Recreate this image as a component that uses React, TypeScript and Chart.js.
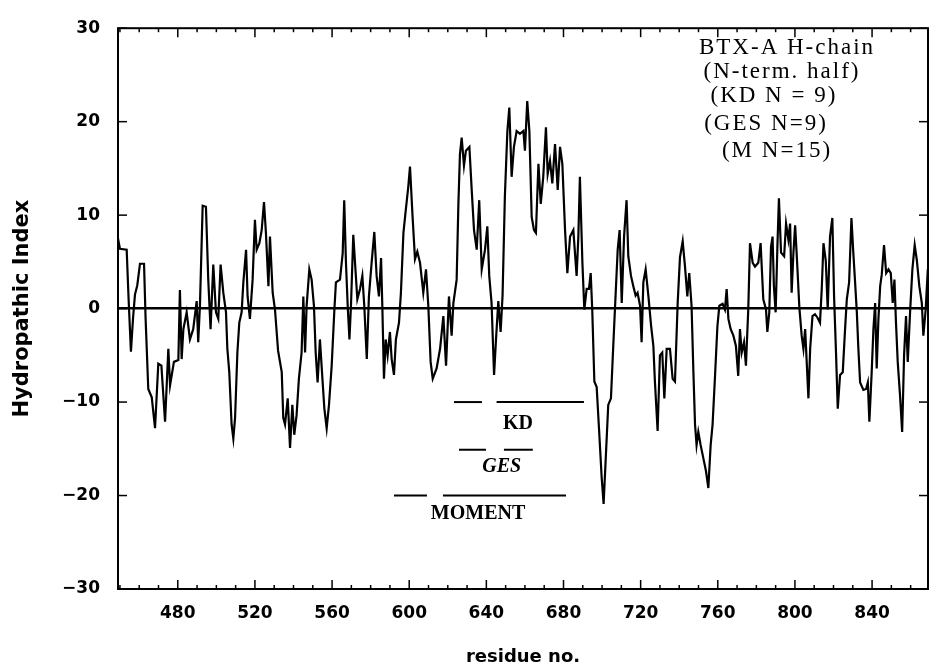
import React, { useEffect, useRef } from "react";
import { Chart, registerables } from "chart.js";

Chart.register(...registerables);

// ---- data ----
const residues = [
  449, 450, 453.5, 454.5, 455.7, 456.8, 457.8, 459, 460.4, 462.5, 463.3, 464.7, 466.5, 468.2, 469.9, 471.5, 473.4, 475.1, 476, 478,
  480.3, 481.1, 482, 482.9, 484.6, 486.3, 488, 489.8, 490.6, 491.5, 492.9, 494.6, 495.8, 497, 498.4, 499.8, 501, 502.2, 503.6, 505,
  505.7, 506.7, 507.9, 508.8, 509.7, 510.9, 511.9, 513.1, 514, 515.4, 516.2, 517.4, 518.8, 520, 520.9, 522.3, 523.5, 524.7, 525.7, 527,
  527.8, 529.2, 530.4, 532, 533.9, 534.7, 535.6, 537, 538.2, 539.4, 540.4, 541.6, 542.8, 544.2, 545.1, 546, 546.8, 548.2, 549.4, 550.6,
  551.5, 552.5, 553.7, 555, 556, 557.2, 558.4, 559.8, 561.2, 562, 564.1, 565.5, 566.3, 567.2, 568.1, 569, 569.8, 571, 571.9, 573.1,
  574.5, 575.7, 576.7, 578, 579.1, 580.5, 581.9, 583.1, 584.3, 585.4, 586.1, 586.9, 587.8, 588.8, 590, 590.9, 592.1, 593.1, 594.7, 595.7,
  597, 598.2, 599.5, 600.4, 601.7, 603, 604.2, 605.6, 607.3, 608.7, 609.9, 611.1, 612.2, 614.2, 616, 617.7, 619.1, 620.6, 622, 622.9,
  624.6, 625.5, 626.3, 627.2, 628.4, 629.4, 631.2, 632.4, 633.6, 635, 636.3, 637.6, 639.3, 640.5, 641.5, 642.7, 644, 645, 646.2, 647.4,
  648.4, 649.6, 650.9, 651.9, 653.1, 654.3, 655.7, 657.4, 659.2, 660, 661.2, 662.3, 663.5, 664.7, 665.7, 667, 668.2, 669.5, 670.9, 671.8,
  673, 674.2, 675.6, 677, 678.2, 679.4, 680.8, 682, 683.4, 685.1, 686.8, 687.7, 688.5, 689.8, 690.8, 692, 693.2, 694.1, 694.9, 696,
  697.2, 698.4, 699.8, 700.8, 702, 703.2, 704.6, 705.8, 707, 708.1, 709.1, 710.2, 711.4, 712.7, 713.6, 715, 716.2, 717.4, 718.4, 719.7,
  720.5, 721.4, 722.6, 724, 725.4, 726.6, 727.4, 728.8, 730, 731.2, 732.3, 733.5, 735.2, 736.6, 737.8, 739.2, 740.4, 741.8, 743, 744.2,
  745.2, 746.4, 747.3, 748.2, 749, 749.9, 751.1, 752.5, 753.9, 755.1, 756.3, 757.3, 758.5, 759.8, 760.8, 762.5, 763.7, 764.6, 765.5, 766.7,
  768.1, 769.4, 770.6, 771.5, 772.4, 773.6, 774.6, 775.8, 776.7, 778.1, 779.3, 781, 782.2, 783.6, 785, 785.7, 786.7, 787.6, 788.4, 789.1,
  790, 790.9, 791.7, 792.8, 794.4, 795.4, 796.6, 797.5, 798.3, 799.2, 800.1, 800.9, 802.3, 803.5, 804.4, 805.3, 807, 807.9, 809.1, 810.4,
  811.8, 813, 813.9, 814.8, 816, 817, 818.2, 819.4, 820.3, 821.3, 822.2, 823.4, 824.8, 826, 826.9, 828.1, 829.3, 830.3, 831.2, 832.1,
  832.9, 833.8, 835.5, 836.9, 837.8, 838.6, 839.8, 840.7, 841.6, 842.4, 843.3, 844.2, 845, 846.2, 847.3, 848.5, 849.7, 850.7, 851.6, 852.4,
  853.3, 854.5, 855.6, 856.6, 857.6, 858.5, 859.7, 860.9, 862.1, 863.2, 864.5, 865.8, 866.6, 867.8, 868.9,
];

const hydro = [
  7.5, 6.4, 6.3, 1, -4.6, -1, 1.5, 2.5, 4.8, 4.8, -1, -8.6, -9.5, -12.8, -5.9, -6.1, -12.1, -4.3, -8.2, -5.7,
  -5.5, 2, -5.4, -2.2, -0.4, -3.3, -2.2, 0.8, -3.6, 0.4, 11, 10.9, 3.1, -2.2, 4.7, -0.4, -1.1, 4.7, 1.7, -0.4,
  -4.3, -6.8, -12.4, -13.9, -11.7, -4.7, -1.5, -0.4, 2.8, 6.3, 1.3, -1.1, 3.1, 9.5, 6.3, 7, 8.4, 11.4, 8.1, 2.4,
  7.7, 1.7, -0.1, -4.5, -6.8, -11.7, -12.4, -9.6, -14.9, -10.3, -13.5, -11.4, -7.5, -4.7, 1.3, -4.7, 0.3, 4.2, 3.1, 0.3,
  -4.7, -7.9, -3.3, -7.5, -10.7, -12.8, -10.3, -6.1, -0.1, 2.8, 3.1, 5.9, 11.6, 4.9, 0.3, -3.3, 0.3, 7.9, 4.9, 1,
  2.1, 3.5, 0.3, -5.4, 1.3, 4.9, 8.2, 3.5, 1.3, 5.4, -0.1, -7.5, -3.3, -5, -2.5, -5.4, -7.1, -3.3, -1.5, 1.7,
  8.1, 10.5, 13, 15.2, 10, 5.3, 6.1, 4.9, 1.7, 4.2, 0.3, -5.7, -7.5, -6.4, -4.3, -0.8, -6.1, 1.3, -2.9, 0.6,
  3.1, 11.2, 16.5, 18.3, 15.3, 16.9, 17.3, 12.7, 8.4, 6.3, 11.6, 4.2, 6.3, 8.8, 3.5, 0.6, -7.1, -3.3, 0.8, -2.5,
  1.4, 12, 19, 21.5, 14.1, 17.3, 19, 18.7, 19, 16.9, 22.2, 19, 9.8, 8.4, 8.1, 15.5, 11.2, 14.1, 19.4, 14.4,
  15.8, 13.4, 17.6, 12.7, 17.3, 15.5, 8.4, 3.8, 7.7, 8.4, 3.5, 7.7, 14.1, 4.9, -0.1, 2.1, 2.1, 3.8, -0.1, -7.8,
  -8.4, -12.8, -18.1, -20.9, -15.6, -10.3, -9.6, -4, 1.4, 6.3, 8.4, 0.6, 7.7, 11.6, 5.6, 3.5, 2.4, 1.4, 1.7, 0.3,
  -3.6, 2.8, 4.2, 1.4, -1.8, -4, -7.8, -13.1, -5, -4.7, -9.6, -4.3, -4.3, -7.5, -7.8, 0.6, 5.5, 7.2, 4.5, 1.3,
  3.8, 0.3, -6.4, -12.4, -14.6, -13.2, -14.6, -16, -17.4, -19.2, -14.6, -12.4, -7.5, -1.9, 0.3, 0.5, -0.1, 2.1, -1.1, -2.2,
  -2.9, -4, -7.2, -2.2, -4.7, -3.6, -6.1, -0.1, 7, 4.9, 4.5, 4.9, 7, 1, -0.1, -2.5, -0.4, 6.6, 7.7, 2.4,
  -0.4, 6.6, 11.8, 6, 5.6, 9.1, 7.4, 9.1, 1.7, 5.9, 8.9, 5.9, 0.1, -2.9, -4.3, -2.2, -9.6, -4.3, -0.8, -0.6,
  -1, -1.5, 2.1, 7, 5.1, -0.1, 7.7, 9.7, 1.3, -4.7, -10.7, -7.1, -6.8, -2.2, 1, 2.8, 9.7, 5.9, 2.8, -0.4,
  -4.3, -7.9, -8.7, -8.6, -7.9, -12.1, -6.8, -2.2, 0.6, -6.4, -1.1, 2.4, 3.6, 6.8, 3.8, 4.2, 3.8, 0.6, 3.1, -1.5,
  -5.7, -9.3, -13.2, -5, -0.8, -5.7, -0.4, 4.2, 6.8, 5.2, 2.4, 0.6, -2.9, -0.1, 4.2,
];

const xRange = [449, 869];
const xTickValues = [480, 520, 560, 600, 640, 680, 720, 760, 800, 840];
const xMinorStep = 10;
const yTickValues = [-30, -20, -10, 0, 10, 20, 30];
const yTickLabels = ["\u221230", "\u221220", "\u221210", "0", "10", "20", "30"];

// method bars (residue ranges) and their y levels
const kdSegments = [[623.2, 637.7], [645.3, 690.6]];
const gesSegments = [[625.8, 639.8], [649.1, 664.1]];
const momentSegments = [[592.1, 609.2], [617.5, 681.3]];
const segmentLevels = [-10, -15.1, -20];
const segmentLabels = ["KD", "GES", "MOMENT"];
const segmentLabelAt = [[656.4, -12.3], [648, -16.9], [635.7, -22]];

const noteLines = ["BTX-A H-chain", "(N-term. half)", "(KD N = 9)", "(GES N=9)", "(M N=15)"];
const noteAt = [[795.9, 27.9], [793.3, 25.3], [789.1, 22.8], [785, 19.8], [790.7, 16.9]];

const SANS = "'DejaVu Sans', sans-serif";
const SERIF = "'Liberation Serif', 'Times New Roman', serif";

const framePlugin = {
  id: "frameAndNotes",
  afterDatasetsDraw(chart: any) {
    const { ctx, chartArea, scales } = chart;
    const { left, right, top, bottom } = chartArea;
    const xs = scales.x;
    const ys = scales.y;
    ctx.save();
    ctx.strokeStyle = "#000";
    ctx.fillStyle = "#000";
    ctx.lineWidth = 2;
    ctx.strokeRect(left, top, right - left, bottom - top);
    const seg = (x1: number, y1: number, x2: number, y2: number) => {
      ctx.beginPath();
      ctx.moveTo(x1, y1);
      ctx.lineTo(x2, y2);
      ctx.stroke();
    };
    ctx.lineWidth = 1.5;
    const startMinor = Math.ceil(xRange[0] / xMinorStep) * xMinorStep;
    for (let v = startMinor; v <= xRange[1]; v += xMinorStep) {
      const px = xs.getPixelForValue(v);
      const len = xTickValues.includes(v) ? 9 : 4;
      seg(px, bottom, px, bottom - len);
      seg(px, top, px, top + len);
    }
    for (const v of yTickValues) {
      const py = ys.getPixelForValue(v);
      seg(left, py, left + 9, py);
      seg(right, py, right - 9, py);
    }
    // method bars
    ctx.lineWidth = 2;
    [kdSegments, gesSegments, momentSegments].forEach((list, k) => {
      const py = ys.getPixelForValue(segmentLevels[k]);
      for (const [a, b] of list) seg(xs.getPixelForValue(a), py, xs.getPixelForValue(b), py);
    });
    ctx.textAlign = "center";
    ctx.textBaseline = "middle";
    segmentLabels.forEach((t, k) => {
      ctx.font = (k === 1 ? "italic bold " : "bold ") + "20px " + SERIF;
      const [rx, vy] = segmentLabelAt[k];
      ctx.fillText(t, xs.getPixelForValue(rx), ys.getPixelForValue(vy));
    });
    // note block
    ctx.font = "23px " + SERIF;
    try { (ctx as any).letterSpacing = "2px"; } catch (e) {}
    noteLines.forEach((t, k) => {
      const [rx, vy] = noteAt[k];
      ctx.fillText(t, xs.getPixelForValue(rx), ys.getPixelForValue(vy));
    });
    try { (ctx as any).letterSpacing = "0px"; } catch (e) {}
    ctx.restore();
  },
};

export default function App() {
  const ref = useRef<HTMLCanvasElement | null>(null);
  useEffect(() => {
    if (!ref.current) return;
    const points = residues.map((r, i) => ({ x: r, y: hydro[i] }));
    const tickFont = { family: SANS, size: 17, weight: "bold" as const };
    const xTitleFont = { family: SANS, size: 18, weight: "bold" as const };
    const yTitleFont = { family: SANS, size: 21, weight: "bold" as const };
    const chart = new Chart(ref.current, {
      type: "line",
      data: {
        datasets: [
          {
            data: points,
            borderColor: "#000",
            borderWidth: 2.2,
            pointRadius: 0,
            tension: 0,
            fill: false,
          },
        ],
      },
      options: {
        animation: false,
        responsive: false,
        maintainAspectRatio: false,
        devicePixelRatio: 1,
        layout: { padding: { left: 0, right: 2, top: 23, bottom: 0 } },
        plugins: { legend: { display: false }, tooltip: { enabled: false } },
        scales: {
          x: {
            type: "linear",
            min: xRange[0],
            max: xRange[1],
            afterBuildTicks: (s: any) => {
              s.ticks = xTickValues.map((v) => ({ value: v }));
            },
            afterFit: (s: any) => {
              s.height = 80;
            },
            grid: { display: false, drawTicks: false },
            border: { display: false },
            ticks: {
              padding: 14,
              color: "#000",
              font: tickFont,
              autoSkip: false,
              maxRotation: 0,
              callback: (v: any) => String(v),
            },
            title: {
              display: true,
              text: "residue no.",
              color: "#000",
              font: xTitleFont,
              padding: { top: 0, bottom: 1 },
            },
          },
          y: {
            type: "linear",
            min: -30,
            max: 30,
            afterBuildTicks: (s: any) => {
              s.ticks = yTickValues.map((v) => ({ value: v }));
            },
            afterFit: (s: any) => {
              s.width = 118;
            },
            grid: {
              drawTicks: false,
              lineWidth: 2.5,
              color: (c: any) => (c.tick && c.tick.value === 0 ? "#000" : "rgba(0,0,0,0)"),
            },
            border: { display: false },
            ticks: {
              padding: 18,
              color: "#000",
              font: tickFont,
              autoSkip: false,
              callback: (_v: any, i: number) => yTickLabels[i],
            },
            title: {
              display: true,
              text: "Hydropathic Index",
              color: "#000",
              font: yTitleFont,
              padding: { top: 10, bottom: 0 },
            },
          },
        },
      },
      plugins: [framePlugin],
    });
    return () => chart.destroy();
  }, []);

  return (
    <div style={{ position: "fixed", left: 0, top: 0, width: 930, height: 669, background: "#fff" }}>
      <canvas ref={ref} width={930} height={669} style={{ display: "block", width: 930, height: 669 }} />
    </div>
  );
}
